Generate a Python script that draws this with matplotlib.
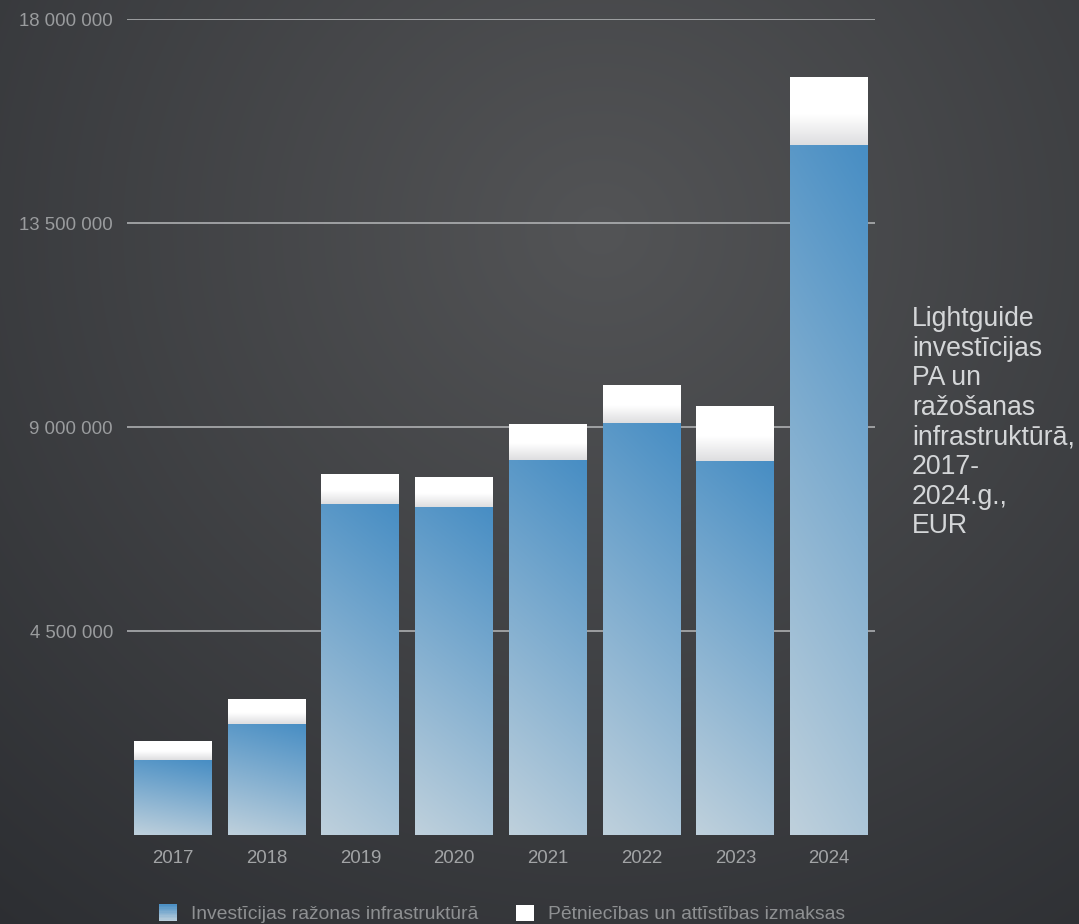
import numpy as np
import matplotlib
matplotlib.use('Agg')
import matplotlib.pyplot as plt
from matplotlib.patches import Rectangle
from matplotlib.legend_handler import HandlerBase
from matplotlib.ticker import FuncFormatter, FixedLocator

# ---------------- data ----------------
years = ['2017', '2018', '2019', '2020', '2021', '2022', '2023', '2024']
infra = [1650000, 2450000, 7300000, 7240000, 8270000, 9090000, 8250000, 15230000]
rnd = [420000, 550000, 660000, 660000, 800000, 840000, 1210000, 1490000]
yticks = [4500000, 9000000, 13500000, 18000000]
series_labels = ['Investīcijas ražonas infrastruktūrā',
                 'Pētniecības un attīstības izmaksas']
side_title = ('Lightguide\ninvestīcijas\nPA un\nražošanas\ninfrastruktūrā,'
              '\n2017-\n2024.g.,\nEUR')

plt.rcParams['font.family'] = ['Liberation Sans', 'DejaVu Sans']

W, H = 1079, 924
fig = plt.figure(figsize=(W / 100, H / 100), dpi=100)

# ---------------- background radial gradient ----------------
bg_ax = fig.add_axes([0, 0, 1, 1], zorder=-10)
yy, xx = np.mgrid[0:H, 0:W]
d = np.sqrt((xx - 600) ** 2 + ((yy - 230) * 1.05) ** 2)
t = np.clip(d / 980, 0, 1)[..., None]
c_center = np.array([83, 84, 86]) / 255
c_edge = np.array([43, 45, 49]) / 255
bg = c_center * (1 - t) + c_edge * t
bg_ax.imshow(bg, extent=(0, 1, 0, 1), aspect='auto', origin='upper')
bg_ax.set_axis_off()

# ---------------- main axes ----------------
ax = fig.add_axes([127 / W, 89 / H, 748 / W, 816 / H])
ax.patch.set_alpha(0)
x = np.arange(len(years))
width = 0.83

bars_infra = ax.bar(x, infra, width=width, color='none', edgecolor='none', zorder=2)
bars_rnd = ax.bar(x, rnd, bottom=infra, width=width, color='none', edgecolor='none', zorder=2)

blue_top = np.array([72, 142, 196]) / 255
blue_bot = np.array([190, 208, 220]) / 255


def blue_grad(n=64, m=16):
    v = np.linspace(0, 1, n)[:, None]          # 0 bottom -> 1 top
    h = np.linspace(0, 1, m)[None, :]          # 0 left -> 1 right
    tt = np.clip(0.85 * v + 0.15 * h, 0, 1)[..., None]
    return blue_bot * (1 - tt) + blue_top * tt


def white_grad(n=64, m=4):
    v = np.linspace(0, 1, n)[:, None]
    s = np.clip(v / 0.45, 0, 1)
    tt = np.repeat(s, m, axis=1)[..., None]
    lo = np.array([222, 222, 224]) / 255
    hi = np.array([255, 255, 255]) / 255
    return lo * (1 - tt) + hi * tt


for p in bars_infra:
    x0, y0 = p.get_x(), p.get_y()
    im = ax.imshow(blue_grad(), extent=(x0, x0 + p.get_width(), y0, y0 + p.get_height()),
                   origin='lower', aspect='auto', interpolation='bilinear', zorder=2)
    im.set_clip_path(p)

for p in bars_rnd:
    x0, y0 = p.get_x(), p.get_y()
    im = ax.imshow(white_grad(), extent=(x0, x0 + p.get_width(), y0, y0 + p.get_height()),
                   origin='lower', aspect='auto', interpolation='bilinear', zorder=2)
    im.set_clip_path(p)

ax.set_xlim(-0.49, len(years) - 1 + 0.49)
ax.set_ylim(0, 18000000)

ax.yaxis.set_major_locator(FixedLocator(yticks))
ax.yaxis.set_major_formatter(FuncFormatter(lambda v, pos: f'{int(v):,}'.replace(',', ' ')))
ax.set_xticks(x)
ax.set_xticklabels(years)
ax.set_axisbelow(True)
ax.grid(axis='y', color='#b6b8ba', linewidth=1.1)
ax.grid(axis='x', visible=False)
for s in ax.spines.values():
    s.set_visible(False)
ax.tick_params(axis='y', length=0, pad=10, labelsize=13.4, labelcolor='#9a9c9e')
ax.tick_params(axis='x', length=0, pad=11, labelsize=13.4, labelcolor='#a2a4a6')

# ---------------- side title ----------------
fig.text(912 / W, 1 - 306 / H, side_title, ha='left', va='top', fontsize=19.2,
         color='#d4d6d8', linespacing=1.18)


# ---------------- legend ----------------
class GradientHandler(HandlerBase):
    def __init__(self, kind):
        super().__init__()
        self.kind = kind

    def create_artists(self, legend, orig_handle, xdescent, ydescent, width, height,
                       fontsize, trans):
        arts = []
        if self.kind == 'blue':
            n = 12
            for i in range(n):
                tt = (i + 0.5) / n
                col = blue_bot * (1 - tt) + blue_top * tt
                r = Rectangle((-xdescent, -ydescent + height * i / n), width, height / n + 0.3,
                              facecolor=col, edgecolor='none', transform=trans)
                arts.append(r)
        else:
            arts.append(Rectangle((-xdescent, -ydescent), width, height,
                                  facecolor='white', edgecolor='none', transform=trans))
        return arts


h1 = Rectangle((0, 0), 1, 1)
h2 = Rectangle((0, 0), 1, 1)
leg = fig.legend([h1, h2], series_labels, loc='center left',
                 bbox_to_anchor=(159 / W, 1 - 914 / H), ncol=2, frameon=False,
                 fontsize=13.9, labelcolor='#8e9092', handlelength=0.92,
                 handleheight=0.92, handletextpad=0.75, columnspacing=1.95,
                 borderpad=0, borderaxespad=0,
                 handler_map={h1: GradientHandler('blue'), h2: GradientHandler('white')})

fig.savefig('out.png', dpi=100)
